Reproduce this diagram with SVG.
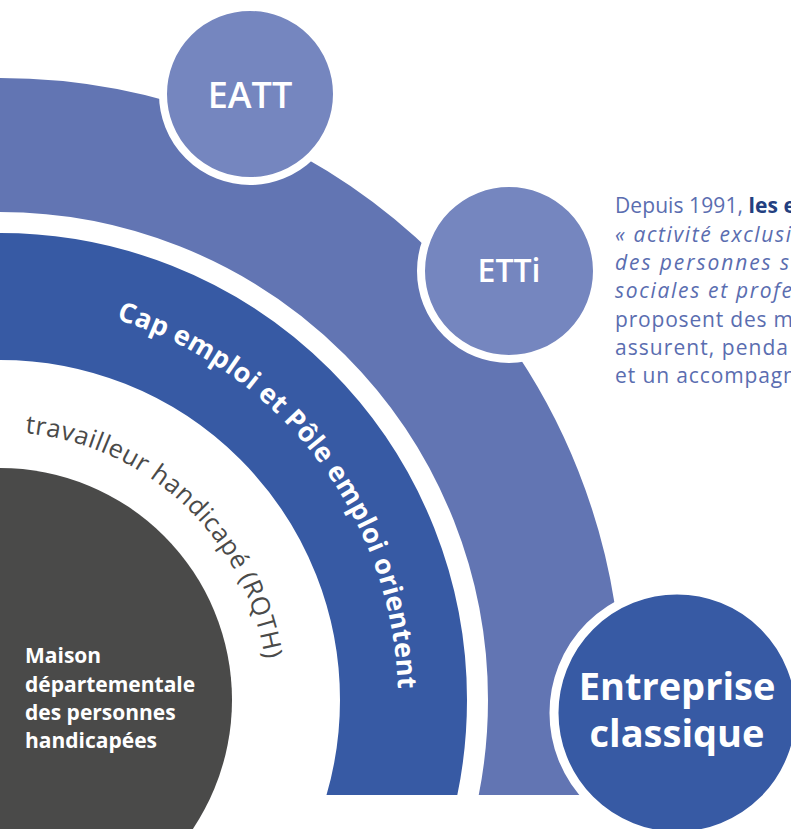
<svg xmlns="http://www.w3.org/2000/svg" xmlns:xlink="http://www.w3.org/1999/xlink" width="791" height="829" viewBox="0 0 791 829">
  <defs>
    <style>
      .band-outer { fill: none; stroke: #6275b3; }
      .band-inner { fill: none; stroke: #375aa4; }
      .core { fill: #4a4a49; }
      .bubble { fill: #7586bf; stroke: #ffffff; }
      .bubble-main { fill: #375aa4; stroke: #ffffff; }
      .label { font-family: "Open Sans", "Liberation Sans", sans-serif; fill: #ffffff; text-anchor: middle; }
      .arc-white { font-family: "Open Sans", "Liberation Sans", sans-serif; font-weight: 700; font-size: 27px; fill: #ffffff; }
      .arc-grey { font-family: "Open Sans", "Liberation Sans", sans-serif; font-size: 25.5px; fill: #4a4a49; }
      .core-text { font-family: "Open Sans", "Liberation Sans", sans-serif; font-weight: 700; font-size: 21px; fill: #ffffff; }
      .body { font-family: "Open Sans", "Liberation Sans", sans-serif; font-size: 21px; fill: #5a6db0; }
      .body .strong { font-weight: 700; fill: #233f80; }
      .body .em { font-style: italic; }
    </style>
    <clipPath id="bandClip">
      <rect x="0" y="0" width="791" height="795"/>
    </clipPath>
    <!-- baselines for the curved captions, centred on the core circle (0,700) -->
    <path id="arcCap" d="M 0 302 A 398 398 0 0 1 344.7 899"/>
    <path id="arcRqth" d="M 0 432 A 268 268 0 0 1 232.1 834"/>
  </defs>

  <!-- concentric rings -->
  <g id="ring-outer" clip-path="url(#bandClip)">
    <circle class="band-outer" cx="0" cy="700" r="555" stroke-width="134"/>
  </g>
  <g id="ring-inner" clip-path="url(#bandClip)">
    <circle class="band-inner" cx="0" cy="700" r="403.5" stroke-width="127"/>
    <text class="arc-white"><textPath xlink:href="#arcCap" href="#arcCap" startOffset="118" textLength="496" lengthAdjust="spacing">Cap emploi et Pôle emploi orientent</textPath></text>
  </g>
  <g id="rqth-label">
    <text class="arc-grey"><textPath xlink:href="#arcRqth" href="#arcRqth" startOffset="25" textLength="355" lengthAdjust="spacing">travailleur handicapé (RQTH)</textPath></text>
  </g>

  <!-- core: MDPH -->
  <g id="mdph">
    <circle class="core" cx="0" cy="700" r="232"/>
    <text class="core-text" x="25" y="663">Maison</text>
    <text class="core-text" x="25" y="692">départementale</text>
    <text class="core-text" x="25" y="720">des personnes</text>
    <text class="core-text" x="25" y="748">handicapées</text>
  </g>

  <!-- satellites -->
  <g id="eatt">
    <circle class="bubble" cx="250" cy="94" r="87" stroke-width="8"/>
    <text class="label" x="250" y="108" font-size="36" font-weight="600">EATT</text>
  </g>
  <g id="etti">
    <circle class="bubble" cx="509" cy="271" r="88" stroke-width="8"/>
    <text class="label" x="509" y="282" font-size="32" font-weight="600">ETTi</text>
  </g>
  <g id="entreprise">
    <circle class="bubble-main" cx="677" cy="713" r="123" stroke-width="9"/>
    <text class="label" x="677" y="700" font-size="38" font-weight="700">Entreprise</text>
    <text class="label" x="677" y="747" font-size="38" font-weight="700">classique</text>
  </g>

  <!-- side paragraph, running off the right edge -->
  <g id="paragraph" class="body">
    <text x="615" y="213" textLength="181" lengthAdjust="spacing">Depuis 1991, <tspan class="strong">les e</tspan></text>
    <text x="615" y="242" class="em" textLength="176" lengthAdjust="spacing">« activité exclusi</text>
    <text x="615" y="270" class="em" textLength="174" lengthAdjust="spacing">des personnes s</text>
    <text x="615" y="298" class="em" textLength="177" lengthAdjust="spacing">sociales et profe</text>
    <text x="615" y="327" textLength="178" lengthAdjust="spacing">proposent des m</text>
    <text x="615" y="355" textLength="173" lengthAdjust="spacing">assurent, penda</text>
    <text x="615" y="383" textLength="181" lengthAdjust="spacing">et un accompagn</text>
  </g>
</svg>
